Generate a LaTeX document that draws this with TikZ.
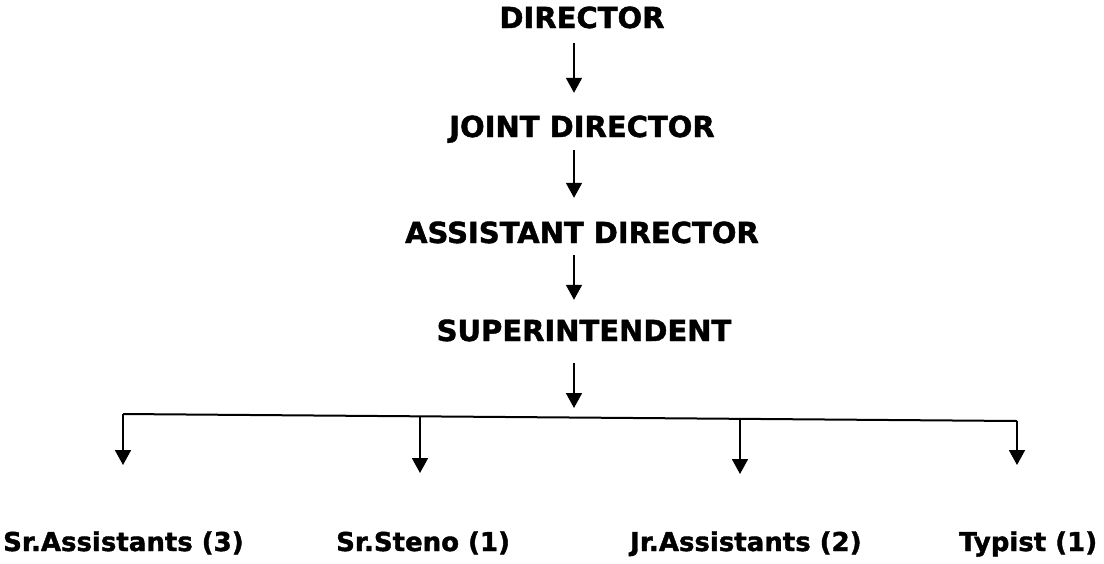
\documentclass[tikz,border=0pt]{standalone}
\usepackage{fontspec}
\setmainfont{DejaVu Sans}[BoldFeatures={FakeBold=1.5}]
\usetikzlibrary{arrows.meta}
\begin{document}
\begin{tikzpicture}[x=1pt,y=-1pt,
  title/.style={font=\bfseries\fontsize{29}{34}\selectfont, inner sep=0pt, anchor=base, text height=21pt, text depth=0pt},
  leaf/.style={font=\bfseries\fontsize{26}{30}\selectfont, inner sep=0pt, anchor=base west, text height=19pt, text depth=0pt},
  arr/.style={line width=1.8pt, -{Triangle[width=16pt,length=15pt]}},
  hline/.style={line width=2pt}]
\useasboundingbox (0,0) rectangle (1104,563);
\node[title] (dir) at (582,28) {DIRECTOR};
\node[title] (jd) at (582,137) {JOINT DIRECTOR};
\node[title] (ad) at (582,243) {ASSISTANT DIRECTOR};
\node[title] (sup) at (584,341) {SUPERINTENDENT};
\draw[arr, shorten <=15pt, shorten >=23pt] ([xshift=-8pt]dir.south) -- ([xshift=-8pt]jd.north);
\draw[arr, shorten <=13pt, shorten >=24pt] ([xshift=-8pt]jd.south) -- ([xshift=-8pt]ad.north);
\draw[arr, shorten <=12pt, shorten >=20pt] ([xshift=-8pt]ad.south) -- ([xshift=-10pt]sup.north);
\coordinate (a4e) at (574,408);
\draw[arr, shorten <=22pt] ([xshift=-10pt]sup.south) -- (a4e);
\coordinate (hl) at (123,414);
\coordinate (hr) at (1017,421);
\draw[hline] (hl) -- (hr);
\coordinate (d1) at (123,414);
\coordinate (d2) at (420,416.3);
\coordinate (d3) at (740,418.8);
\coordinate (d4) at (1017,421);
\coordinate (e1) at (123,465);
\coordinate (e2) at (420,473);
\coordinate (e3) at (740,474);
\coordinate (e4) at (1017,465);
\foreach \i in {1,2,3,4} \draw[arr] (d\i) -- (e\i);
\node[leaf] (l1) at (3,551) {Sr.Assistants (3)};
\node[leaf] (l2) at (336,551) {Sr.Steno (1)};
\node[leaf] (l3) at (630,551) {Jr.Assistants (2)};
\node[leaf] (l4) at (959,551) {Typist (1)};
\end{tikzpicture}
\end{document}
